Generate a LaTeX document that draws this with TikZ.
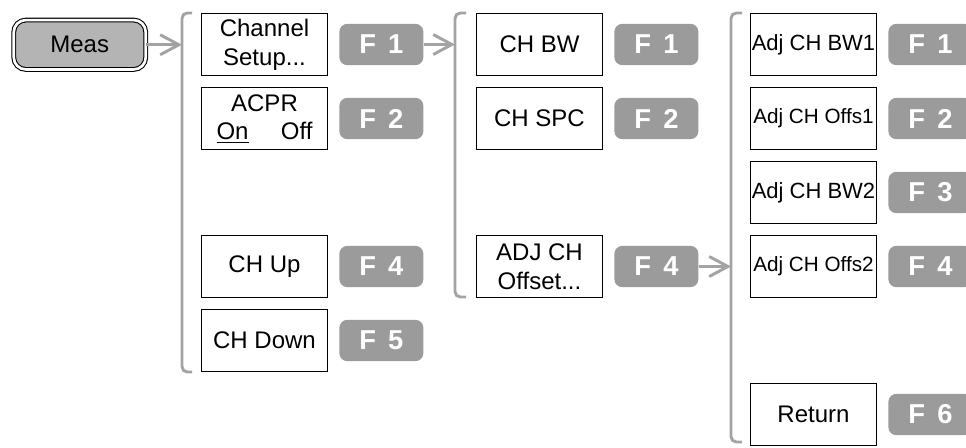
\documentclass[tikz,border=0pt]{standalone}
\usepackage{fontspec}
\setmainfont{Liberation Sans}
\usetikzlibrary{positioning, arrows.meta}
\usepackage{xcolor}
\definecolor{keygray}{HTML}{9B9B9B}
\definecolor{linegray}{HTML}{A3A3A3}
\definecolor{measfill}{HTML}{B4B4B4}

\begin{document}
\begin{tikzpicture}[
    x=0.75pt, y=-0.75pt,
    menu/.style={draw, line width=0.9pt, minimum width=95pt, minimum height=47pt, inner sep=0pt, align=center, font=\fontsize{18}{21.5}\selectfont},
    key/.style={fill=keygray, rounded corners=6pt, minimum width=63pt, minimum height=31pt, inner sep=0pt, text=white, font=\fontsize{20.5}{22}\selectfont\bfseries},
    bracket/.style={draw=linegray, line width=2.2pt, rounded corners=4pt},
    link/.style={draw=linegray, line width=2.2pt, -{Straight Barb[length=14pt, width=15pt]}},
]
\useasboundingbox (0,0) rectangle (966,447);
\clip (0,0) rectangle (966,447);

% Meas button
\node[draw, line width=0.8pt, double=white, double distance=2pt, fill=measfill, rounded corners=9pt,
      minimum width=99pt, minimum height=37pt, inner sep=0pt, font=\fontsize{18}{21.5}\selectfont] (meas) at (79.75, 44.75) {Meas};

% Column 1: Meas menu
\node[menu] (setup) at (264.5, 44.5) {Channel\\Setup...};
\node[menu] (acpr) at (264.5, 118.5) {ACPR\\\makebox[72pt]{\underline{On}\hfill Off}};
\node[menu] (chup) at (264.5, 266.5) {CH Up};
\node[menu] (chdown) at (264.5, 340.5) {CH Down};

\node[key, right=8pt of setup] (setupkey) {F\hspace{0.45em}1};
\node[key, right=8pt of acpr] (acprkey) {F\hspace{0.45em}2};
\node[key, right=8pt of chup] (upkey) {F\hspace{0.45em}4};
\node[key, right=8pt of chdown] (downkey) {F\hspace{0.45em}5};

\coordinate (br1top) at (182, 13);
\coordinate (br1bot) at (182, 372);
\draw[bracket] (br1top) ++(10,0) -- (br1top) -- (br1bot) -- ++(10,0);

% Column 2: Channel Setup menu
\node[menu] (chbw) at (539.5, 44.5) {CH BW};
\node[menu] (chspc) at (539.5, 118.5) {CH SPC};
\node[menu] (adjoff) at (539.5, 266.5) {ADJ CH\\Offset...};

\node[key, right=8pt of chbw] (bwkey) {F\hspace{0.45em}1};
\node[key, right=8pt of chspc] (spckey) {F\hspace{0.45em}2};
\node[key, right=8pt of adjoff] (adjkey) {F\hspace{0.45em}4};

\coordinate (br2top) at (455, 13);
\coordinate (br2bot) at (455, 297);
\draw[bracket] (br2top) ++(11,0) -- (br2top) -- (br2bot) -- ++(11,0);

% Column 3: ADJ CH Offset menu
\node[menu, font=\fontsize{16.5}{20}\selectfont] (bw1) at (813.5, 44.5) {Adj CH BW1};
\node[menu, font=\fontsize{15.5}{18}\selectfont] (offs1) at (813.5, 118.5) {Adj CH Offs1};
\node[menu, font=\fontsize{16.5}{20}\selectfont] (bw2) at (813.5, 192.5) {Adj CH BW2};
\node[menu, font=\fontsize{15.5}{18}\selectfont] (offs2) at (813.5, 266.5) {Adj CH Offs2};
\node[menu] (ret) at (813.5, 414.5) {Return};

\node[key, right=8pt of bw1] (bw1key) {F\hspace{0.45em}1};
\node[key, right=8pt of offs1] (offs1key) {F\hspace{0.45em}2};
\node[key, right=8pt of bw2] (bw2key) {F\hspace{0.45em}3};
\node[key, right=8pt of offs2] (offs2key) {F\hspace{0.45em}4};
\node[key, right=8pt of ret] (retkey) {F\hspace{0.45em}6};

\coordinate (br3top) at (731, 13);
\coordinate (br3bot) at (731, 442);
\draw[bracket] (br3top) ++(11,0) -- (br3top) -- (br3bot) -- ++(11,0);

% Links
\draw[link] (meas) -- (meas -| br1top);
\draw[link] (setupkey) -- (setupkey -| br2top);
\draw[link] (adjkey) -- (adjkey -| br3top);

\end{tikzpicture}
\end{document}
